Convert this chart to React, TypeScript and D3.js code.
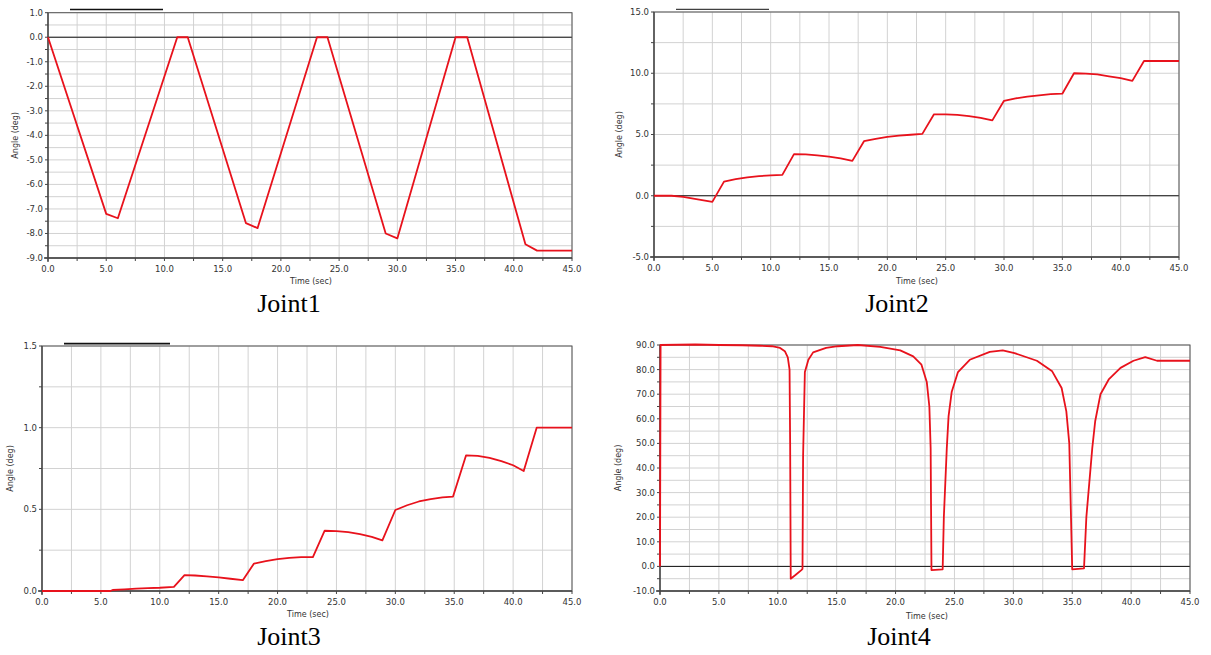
import React from "react";
import * as d3 from "d3";

// time axis shared by all four plots
const timeTicks = [0, 5, 10, 15, 20, 25, 30, 35, 40, 45];

// [time (sec), angle (deg)]
const joint1 = [
  [0, 0], [5, -7.2], [6, -7.38], [11.1, 0], [12, 0], [17, -7.58], [18, -7.78],
  [23.1, 0], [24, 0], [29, -8.0], [30, -8.2], [35, 0], [36, 0], [41, -8.44],
  [42, -8.7], [45, -8.7],
];

const joint2 = [
  [0, 0], [1.5, 0], [2.5, -0.1], [5, -0.5], [6, 1.15], [7, 1.35], [8, 1.5],
  [9, 1.6], [10, 1.67], [11, 1.7], [12, 3.4], [13, 3.38], [14, 3.3], [15, 3.2],
  [16, 3.05], [17, 2.85], [18, 4.45], [19, 4.65], [20, 4.8], [21, 4.9],
  [22, 4.98], [23, 5.05], [24, 6.65], [25, 6.65], [26, 6.6], [27, 6.5],
  [28, 6.35], [29, 6.15], [30, 7.75], [31, 7.95], [32, 8.1], [33, 8.2],
  [34, 8.3], [35, 8.33], [36, 10.0], [37, 9.97], [38, 9.9], [39, 9.75],
  [40, 9.6], [41, 9.38], [42, 11.0], [45, 11.0],
];

const joint3 = [
  [0, 0], [5.8, 0], [6, 0.006], [7, 0.01], [8, 0.014], [9, 0.018], [10, 0.02],
  [11.2, 0.025], [12.1, 0.097], [13, 0.095], [14, 0.09], [15, 0.083],
  [16, 0.075], [17.05, 0.066], [18, 0.168], [19, 0.183], [20, 0.195],
  [21, 0.203], [22, 0.207], [23, 0.208], [24, 0.369], [25, 0.367], [26, 0.36],
  [27, 0.348], [28, 0.332], [28.9, 0.31], [30, 0.496], [31, 0.525],
  [32, 0.548], [33, 0.563], [34, 0.573], [34.9, 0.578], [36, 0.83],
  [37, 0.827], [38, 0.815], [39, 0.795], [40, 0.77], [40.9, 0.735], [42, 1.0],
  [45, 1.0],
];

const joint4 = [
  [0, 0], [0.05, 90], [3, 90.2], [5, 90], [7, 89.9], [8.5, 89.7], [9.5, 89.5],
  [10.2, 88.8], [10.6, 87.5], [10.85, 85], [11.0, 80], [11.05, 50], [11.1, -5],
  [11.5, -3.5], [12.0, -1.5], [12.1, -1], [12.15, 45], [12.3, 79], [12.6, 84],
  [13.0, 87], [14.1, 88.8], [15.1, 89.5], [16.8, 90], [18.7, 89.2],
  [20.4, 87.8], [21.5, 85.4], [22.2, 82], [22.65, 75], [22.87, 65],
  [22.98, 48], [23.05, -1.5], [24.0, -1.2], [24.1, 20], [24.35, 48],
  [24.5, 61], [24.77, 71], [25.3, 79], [26.3, 84], [28, 87.2], [29.1, 87.8],
  [30.1, 86.7], [32, 83.6], [33.3, 79.3], [34.1, 72.5], [34.5, 63],
  [34.75, 50], [35.0, -1.2], [36.0, -0.8], [36.2, 20], [36.7, 48],
  [36.95, 59], [37.4, 70], [38.1, 76], [39.1, 80.7], [40.2, 83.6],
  [41.2, 85.1], [42.2, 83.6], [45, 83.6],
];

const panels = [
  { title: "Joint1", data: joint1, box: [48, 572, 12.7, 258], yDomain: [-9, 1], major: 1, minor: 0.5,
    titleXY: [289, 312], xLabelXY: [311, 284], yLabelX: 15, tickY: 272, bar: [70, 163, 9.5, 1.6] },
  { title: "Joint2", data: joint2, box: [654, 1179, 12, 257], yDomain: [-5, 15], major: 5, minor: 2.5,
    titleXY: [897, 312], xLabelXY: [917, 284], yLabelX: 619, tickY: 271, bar: [676, 769, 9.3, 1] },
  { title: "Joint3", data: joint3, box: [42, 572, 346, 591], yDomain: [0, 1.5], major: 0.5, minor: 0.25,
    titleXY: [289, 645], xLabelXY: [308, 617], yLabelX: 10, tickY: 605, bar: [64, 170, 343.6, 1.8] },
  { title: "Joint4", data: joint4, box: [660, 1190, 345, 591], yDomain: [-10, 90], major: 10, minor: 5,
    titleXY: [899, 645], xLabelXY: [927, 619], yLabelX: 618, tickY: 605, bar: null },
];

const sans = "'DejaVu Sans', Verdana, sans-serif";

function Panel({ p }) {
  const [x0, x1, y0, y1] = p.box;
  const x = d3.scaleLinear().domain([0, 45]).range([x0, x1]);
  const y = d3.scaleLinear().domain(p.yDomain).range([y1, y0]);

  const nY = Math.round((p.yDomain[1] - p.yDomain[0]) / p.minor);
  const yTicks = d3.range(nY + 1).map((i) => p.yDomain[0] + i * p.minor);
  const xMinor = d3.range(19).map((i) => i * 2.5);
  const isMajor = (v) => Math.abs(v / p.major - Math.round(v / p.major)) < 1e-6;

  const line = d3
    .line()
    .x((d) => x(d[0]))
    .y((d) => y(d[1]));

  return (
    <g>
      {/* grid */}
      {xMinor.map((t) => (
        <line key={"gx" + t} x1={x(t)} x2={x(t)} y1={y0} y2={y1} stroke="#d2d2d2" strokeWidth={1} />
      ))}
      {yTicks.map((v) => (
        <line key={"gy" + v} x1={x0} x2={x1} y1={y(v)} y2={y(v)} stroke="#d2d2d2" strokeWidth={1} />
      ))}
      {/* zero line */}
      {p.yDomain[0] < 0 && (
        <line x1={x0} x2={x1} y1={y(0)} y2={y(0)} stroke="#111" strokeWidth={1} />
      )}
      {/* frame */}
      <rect x={x0} y={y0} width={x1 - x0} height={y1 - y0} fill="none" stroke="#555" strokeWidth={1} />
      <line x1={x0} x2={x0} y1={y0} y2={y1 + 4} stroke="#444" strokeWidth={1.3} />
      <line x1={x0 - 4} x2={x1} y1={y1} y2={y1} stroke="#444" strokeWidth={1.3} />
      {/* y ticks */}
      {yTicks.map((v) => (
        <g key={"ty" + v}>
          <line x1={x0 - 3} x2={x0} y1={y(v)} y2={y(v)} stroke="#444" />
          {isMajor(v) && (
            <text x={x0 - 5} y={y(v)} dy="0.35em" textAnchor="end" fontSize={8.5} fontFamily={sans} fill="#333">
              {v.toFixed(1)}
            </text>
          )}
        </g>
      ))}
      {/* x ticks */}
      {xMinor.map((t) => (
        <line key={"tx" + t} x1={x(t)} x2={x(t)} y1={y1} y2={y1 + 3} stroke="#444" />
      ))}
      {timeTicks.map((t) => (
        <text key={"lx" + t} x={x(t)} y={p.tickY} textAnchor="middle" fontSize={8.5} fontFamily={sans} fill="#333">
          {t.toFixed(1)}
        </text>
      ))}
      {/* labels */}
      <text x={p.xLabelXY[0]} y={p.xLabelXY[1]} textAnchor="middle" fontSize={8} fontFamily={sans} fill="#333">
        Time (sec)
      </text>
      <text
        transform={`translate(${p.yLabelX},${(y0 + y1) / 2}) rotate(-90)`}
        dy="0.35em"
        textAnchor="middle"
        fontSize={8}
        fontFamily={sans}
        fill="#333"
      >
        Angle (deg)
      </text>
      <text
        x={p.titleXY[0]}
        y={p.titleXY[1]}
        textAnchor="middle"
        fontSize={26}
        fontFamily="'Liberation Serif', 'Times New Roman', serif"
        fill="#000"
      >
        {p.title}
      </text>
      {p.bar && (
        <line x1={p.bar[0]} x2={p.bar[1]} y1={p.bar[2]} y2={p.bar[2]} stroke="#111" strokeWidth={p.bar[3]} />
      )}
      {/* series */}
      <path d={line(p.data)} fill="none" stroke="#e8121c" strokeWidth={1.8} strokeLinejoin="round" />
    </g>
  );
}

export default function App() {
  return (
    <svg
      width={1211}
      height={655}
      style={{ position: "absolute", left: 0, top: 0, background: "#fff" }}
    >
      <rect width={1211} height={655} fill="#fff" />
      {panels.map((p) => (
        <Panel key={p.title} p={p} />
      ))}
    </svg>
  );
}
